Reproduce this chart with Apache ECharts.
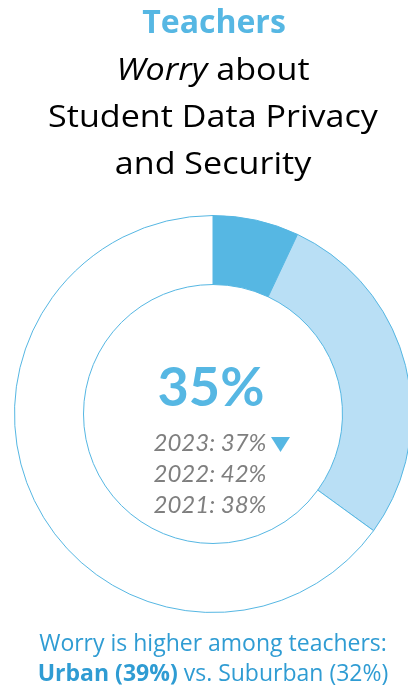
<!DOCTYPE html>
<html>
<head>
<meta charset="utf-8">
<script src="https://cdn.jsdelivr.net/npm/echarts@6/dist/echarts.min.js"></script>
<style>
  html, body { margin: 0; padding: 0; background: #fff; }
  #chart { width: 408px; height: 691px; }
</style>
</head>
<body>
<div id="chart"></div>
<script>
// Share of teachers who worry, split into intensity bands
const segmentNames = ['Very worried', 'Somewhat worried'];
const segmentValues = [7, 28];
const overallValue = 35;

// Earlier survey years
const priorYears = ['2023', '2022', '2021'];
const priorValues = [37, 42, 38];

// Subgroup comparison
const groupNames = ['Urban', 'Suburban'];
const groupValues = [39, 32];

const BLUE = '#56B7E3';
const LIGHT = '#B9DFF5';
const GRAY = '#7F7F7F';
const TEXT_BLUE = '#2F9CD3';
const FONT = '"Open Sans", "Noto Sans", sans-serif';
const FONT_NUM = 'Lato, "Noto Sans", sans-serif';

const rest = 100 - segmentValues.reduce((a, b) => a + b, 0);
const pieData = segmentValues.map((v, i) => ({
  name: segmentNames[i],
  value: v,
  itemStyle: { color: i === 0 ? BLUE : LIGHT }
}));
pieData.push({ name: 'Not worried', value: rest, itemStyle: { color: '#FFFFFF' } });

const chart = echarts.init(document.getElementById('chart'));

function line(text, x, y, size, opts, sx) {
  return {
    type: 'text',
    x: x,
    y: y,
    scaleX: sx || 1,
    style: Object.assign({
      text: text,
      align: 'center',
      verticalAlign: 'middle',
      fontFamily: FONT,
      fontSize: size,
      fill: '#000'
    }, opts || {})
  };
}

const graphics = [
  line('Teachers', 214, 24, 32, { fill: BLUE, fontWeight: 'bold' }),
  line('{i|Worry} about', 213, 71, 31, {
    rich: { i: { fontStyle: 'italic', fontFamily: FONT, fontSize: 31, fill: '#000' } }
  }, 1.1),
  line('Student Data Privacy', 213, 118, 31, null, 1.1),
  line('and Security', 213, 165, 31, null, 1.1),
  line(overallValue + '%', 211, 389, 54, { fill: BLUE, fontWeight: 'bold', fontFamily: FONT_NUM })
];

priorYears.forEach((yr, i) => {
  graphics.push(line(yr + ': ' + priorValues[i] + '%', 210, 443 + i * 31, 24, {
    fill: GRAY, fontStyle: 'italic', fontFamily: FONT_NUM
  }));
});

// Down-arrow marker next to the latest prior year
graphics.push({
  type: 'polygon',
  shape: { points: [[271, 437], [290, 437], [280.5, 452]] },
  style: { fill: BLUE }
});

graphics.push(line('Worry is higher among teachers:', 213, 644, 23, { fill: TEXT_BLUE }));
graphics.push(line('{b|' + groupNames[0] + ' (' + groupValues[0] + '%)} vs. ' +
  groupNames[1] + ' (' + groupValues[1] + '%)', 213, 674, 23, {
  fill: TEXT_BLUE,
  rich: { b: { fontWeight: 'bold', fontFamily: FONT, fontSize: 23, fill: TEXT_BLUE } }
}));

chart.setOption({
  animation: false,
  backgroundColor: '#fff',
  series: [{
    type: 'pie',
    center: [213, 414],
    radius: [129.5, 198.5],
    startAngle: 90,
    clockwise: true,
    silent: true,
    label: { show: false },
    labelLine: { show: false },
    itemStyle: { borderColor: BLUE, borderWidth: 1 },
    data: pieData
  }],
  graphic: graphics
});
</script>
</body>
</html>
